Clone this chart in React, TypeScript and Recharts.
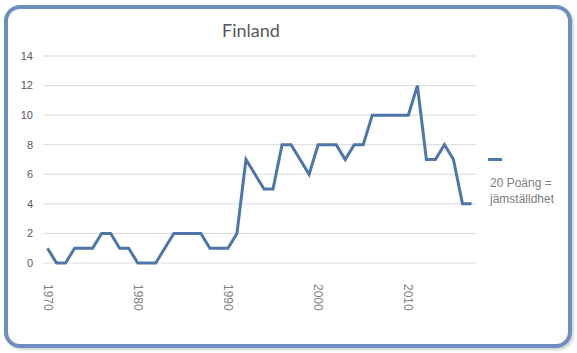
import React from 'react';
import { LineChart, Line, XAxis, YAxis, CartesianGrid } from 'recharts';

const years: number[] = [
  1970, 1971, 1972, 1973, 1974, 1975, 1976, 1977, 1978, 1979,
  1980, 1981, 1982, 1983, 1984, 1985, 1986, 1987, 1988, 1989,
  1990, 1991, 1992, 1993, 1994, 1995, 1996, 1997, 1998, 1999,
  2000, 2001, 2002, 2003, 2004, 2005, 2006, 2007, 2008, 2009,
  2010, 2011, 2012, 2013, 2014, 2015, 2016, 2017,
];

const finlandValues: number[] = [
  1, 0, 0, 1, 1, 1, 2, 2, 1, 1,
  0, 0, 0, 1, 2, 2, 2, 2, 1, 1,
  1, 2, 7, 6, 5, 5, 8, 8, 7, 6,
  8, 8, 8, 7, 8, 8, 10, 10, 10, 10,
  10, 12, 7, 7, 8, 7, 4, 4,
];

const yTicks: number[] = [0, 2, 4, 6, 8, 10, 12, 14];

const title = 'Finland';
const legendLines: string[] = ['20 Poäng =', 'jämställdhet'];

const data = years.map((y, i) => ({ year: y, value: finlandValues[i] }));

const XTick = (props: any) => {
  const { x, y, payload } = props;
  return (
    <text
      x={x}
      y={y}
      transform={`rotate(90, ${x}, ${y})`}
      textAnchor="start"
      dominantBaseline="central"
      fontSize={12}
      fill="#7f7f7f"
      fontFamily="Liberation Sans, Arial, sans-serif"
    >
      {payload.value}
    </text>
  );
};

export default function App() {
  return (
    <div style={{ position: 'absolute', left: 0, top: 0, width: 577, height: 353, background: '#fff' }}>
      <div
        style={{
          position: 'absolute',
          left: 4,
          top: 5,
          width: 560,
          height: 335,
          border: '4px solid #6d8ebf',
          borderRadius: 16,
          boxShadow: '2px 2px 3px rgba(0,0,0,0.18)',
        }}
      />
      <div
        style={{
          position: 'absolute',
          left: 251,
          top: 20,
          transform: 'translateX(-50%)',
          fontFamily: 'Lato, Calibri, sans-serif',
          fontSize: 18,
          lineHeight: '20px',
          color: '#595959',
          whiteSpace: 'nowrap',
        }}
      >
        {title}
      </div>
      <div style={{ position: 'absolute', left: 0, top: 0 }}>
        <LineChart width={577} height={353} data={data} margin={{ top: 56, right: 101, bottom: 50, left: 0 }}>
          <CartesianGrid horizontal vertical={false} stroke="#d9d9d9" />
          <XAxis
            dataKey="year"
            type="category"
            interval={9}
            axisLine={false}
            tickLine={false}
            tick={<XTick />}
            tickMargin={15}
            height={40}
            padding={{ left: 4.5, right: 4.5 }}
          />
          <YAxis
            domain={[0, 14]}
            ticks={yTicks}
            width={43}
            axisLine={false}
            tickLine={false}
            tickSize={0}
            tickMargin={10}
            tick={{ fontSize: 11, fill: '#595959', fontFamily: 'Liberation Sans, Arial, sans-serif' }}
          />
          <Line
            type="linear"
            dataKey="value"
            stroke="#4e76a8"
            strokeWidth={3}
            dot={false}
            isAnimationActive={false}
          />
        </LineChart>
      </div>
      <div style={{ position: 'absolute', left: 488, top: 154, width: 80, height: 60, fontFamily: 'Liberation Sans, Arial, sans-serif' }}>
        <div style={{ position: 'absolute', left: 0, top: 4, width: 14, height: 3, background: '#4e76a8' }} />
        <div style={{ position: 'absolute', left: 2, top: 21, fontSize: 12, lineHeight: '16px', color: '#808080', whiteSpace: 'nowrap' }}>
          {legendLines.map((l) => (
            <div key={l}>{l}</div>
          ))}
        </div>
      </div>
    </div>
  );
}
